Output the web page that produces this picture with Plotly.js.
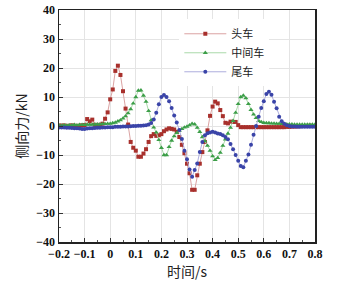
<!DOCTYPE html>
<html>
<head>
<meta charset="utf-8">
<script src="https://cdn.plot.ly/plotly-3.0.1.min.js"></script>
<style>html,body{margin:0;padding:0;background:#fff;}#chart{width:341px;height:287px;}</style>
</head>
<body>
<div id="chart"></div>
<script>
var time = [-0.20,-0.19,-0.18,-0.17,-0.16,-0.15,-0.14,-0.13,-0.12,-0.11,
  -0.10,-0.09,-0.08,-0.07,-0.06,-0.05,-0.04,-0.03,-0.02,-0.01,
  0.00,0.01,0.02,0.03,0.04,0.05,0.06,0.07,0.08,0.09,
  0.10,0.11,0.12,0.13,0.14,0.15,0.16,0.17,0.18,0.19,
  0.20,0.21,0.22,0.23,0.24,0.25,0.26,0.27,0.28,0.29,
  0.30,0.31,0.32,0.33,0.34,0.35,0.36,0.37,0.38,0.39,
  0.40,0.41,0.42,0.43,0.44,0.45,0.46,0.47,0.48,0.49,
  0.50,0.51,0.52,0.53,0.54,0.55,0.56,0.57,0.58,0.59,
  0.60,0.61,0.62,0.63,0.64,0.65,0.66,0.67,0.68,0.69,
  0.70,0.71,0.72,0.73,0.74,0.75,0.76,0.77,0.78,0.79,
  0.80];
var names = ['头车','中间车','尾车'];
var headCar = [0.2,0.1,0.2,0.0,0.1,0.2,0.1,0.0,0.1,0.2,
  0.3,2.4,1.6,2.2,0.4,0.3,0.4,0.8,2.5,4.7,
  9.2,12.6,19.0,20.8,17.6,12.0,6.0,0.5,-5.5,-7.5,
  -8.5,-10.6,-10.6,-9.5,-8.0,-5.5,-3.5,-2.8,-3.4,-3.2,
  -2.8,-1.8,-1.2,-0.8,-1.0,-1.2,-2.0,-3.8,-6.5,-9.4,
  -13.0,-16.3,-22.0,-22.0,-17.0,-13.0,-9.0,-5.5,-1.5,3.5,
  6.7,8.4,7.8,5.5,3.4,1.1,0.9,1.5,1.4,1.4,
  0.3,-0.4,-0.4,-0.4,-0.4,-0.4,-0.4,-0.4,-0.4,-0.4,
  -0.4,-0.4,-0.4,-0.4,-0.4,-0.4,-0.4,-0.4,-0.4,-0.3,
  -0.3,-0.2,-0.2,-0.1,-0.1,0.0,0.0,0.0,0.1,0.0,
  0.0];
var midCar = [0.2,0.2,0.3,0.2,0.3,0.3,0.4,0.3,0.4,0.4,
  0.4,0.5,0.5,0.5,0.6,0.6,0.6,0.7,0.7,0.8,
  0.8,1.0,1.2,1.6,2.0,2.6,3.4,4.4,5.8,7.8,
  10.0,12.2,12.3,10.5,8.4,5.2,2.0,-0.5,-2.2,-4.8,
  -7.5,-10.0,-10.0,-7.2,-5.0,-3.5,-2.4,-1.6,-1.0,-0.5,
  -0.2,0.3,0.8,0.6,-0.6,-2.0,-3.8,-5.2,-6.8,-8.5,
  -10.4,-11.7,-11.0,-9.2,-6.8,-4.6,-2.6,-0.6,1.8,4.6,
  7.6,10.0,10.5,9.6,7.6,5.6,4.0,2.8,1.8,1.4,
  1.1,1.0,1.0,0.9,0.9,0.8,0.8,0.7,0.7,0.6,
  0.6,0.6,0.5,0.5,0.5,0.5,0.5,0.5,0.5,0.5,
  0.5];
var tailCar = [-0.5,-0.5,-0.5,-0.6,-0.6,-0.7,-0.8,-0.8,-0.9,-1.0,
  -1.0,-0.9,-0.8,-0.8,-0.7,-0.6,-0.6,-0.5,-0.5,-0.4,
  -0.4,-0.4,-0.3,-0.3,-0.3,-0.2,-0.2,-0.2,-0.1,0.0,
  0.0,0.1,0.1,0.2,0.3,0.5,1.0,2.2,4.6,7.5,
  10.0,10.7,10.0,8.5,6.2,3.6,1.2,-1.4,-4.5,-8.5,
  -11.5,-15.0,-17.5,-15.2,-12.9,-9.0,-5.5,-3.2,-2.5,-2.2,
  -2.0,-2.2,-2.6,-2.8,-3.2,-3.8,-4.6,-6.2,-8.0,-10.0,
  -12.0,-13.8,-14.2,-12.0,-9.8,-6.5,-3.0,0.0,3.2,6.2,
  8.5,11.0,11.8,10.8,8.4,6.1,3.2,1.6,0.8,0.3,
  0.0,-0.2,-0.2,-0.3,-0.3,-0.3,-0.3,-0.3,-0.3,-0.3,
  -0.3];
var yTickVals = [-40,-30,-20,-10,0,10,20,30,40];
var xTickVals = [-0.2,-0.1,0,0.1,0.2,0.3,0.4,0.5,0.6,0.7,0.8];

var styles = [
  {line:'#dba3a3', marker:'#a8302c', symbol:'square'},
  {line:'#a9d9a9', marker:'#3c9e48', symbol:'triangle-up'},
  {line:'#aeaedd', marker:'#3a44a8', symbol:'circle'}
];
var series = [headCar, midCar, tailCar];
var traces = series.map(function(s, i){
  return {
    x: time, y: s, name: names[i], type: 'scatter', mode: 'lines+markers',
    line: {color: styles[i].line, width: 1},
    marker: {color: styles[i].marker, symbol: styles[i].symbol, size: i===1 ? 4.5 : 4}
  };
});

var tickFont = {family: 'Liberation Serif', size: 12, color: '#111', weight: 'bold'};
var titleFont = {family: 'Noto Sans CJK SC', size: 14, color: '#222'};
var layout = {
  width: 341, height: 287,
  margin: {l: 59, r: 26, t: 10, b: 45, pad: 0},
  paper_bgcolor: '#fff', plot_bgcolor: '#fff',
  showlegend: true,
  legend: {x: 0.47, y: 0.96, xanchor: 'left', yanchor: 'top', bgcolor: '#fff',
    itemwidth: 42, tracegroupgap: 0,
    font: {family: 'Noto Sans CJK SC', size: 11, color: '#222'}, borderwidth: 0},
  xaxis: {
    range: [-0.2, 0.8], tickvals: xTickVals, ticks: 'inside', ticklen: 4, tickcolor: '#333',
    minor: {dtick: 0.05, tick0: 0, ticks: 'inside', ticklen: 2, tickcolor: '#555', showgrid: false},
    showgrid: true, gridcolor: '#e4e4e4', gridwidth: 1, zeroline: false,
    showline: true, linecolor: '#222', linewidth: 1.5, mirror: true,
    tickfont: tickFont,
    title: {text: '时间/s', font: titleFont, standoff: 5}
  },
  yaxis: {
    range: [-40, 40], tickvals: yTickVals, ticks: 'inside', ticklen: 4, tickcolor: '#333',
    minor: {dtick: 5, tick0: 0, ticks: 'inside', ticklen: 2, tickcolor: '#555', showgrid: false},
    showgrid: true, gridcolor: '#e4e4e4', gridwidth: 1, zeroline: false,
    showline: true, linecolor: '#222', linewidth: 1.5, mirror: true,
    tickfont: tickFont,
    title: {text: '侧向力/kN', font: titleFont, standoff: 5}
  }
};
Plotly.newPlot('chart', traces, layout, {displayModeBar: false, staticPlot: true});
</script>
</body>
</html>
